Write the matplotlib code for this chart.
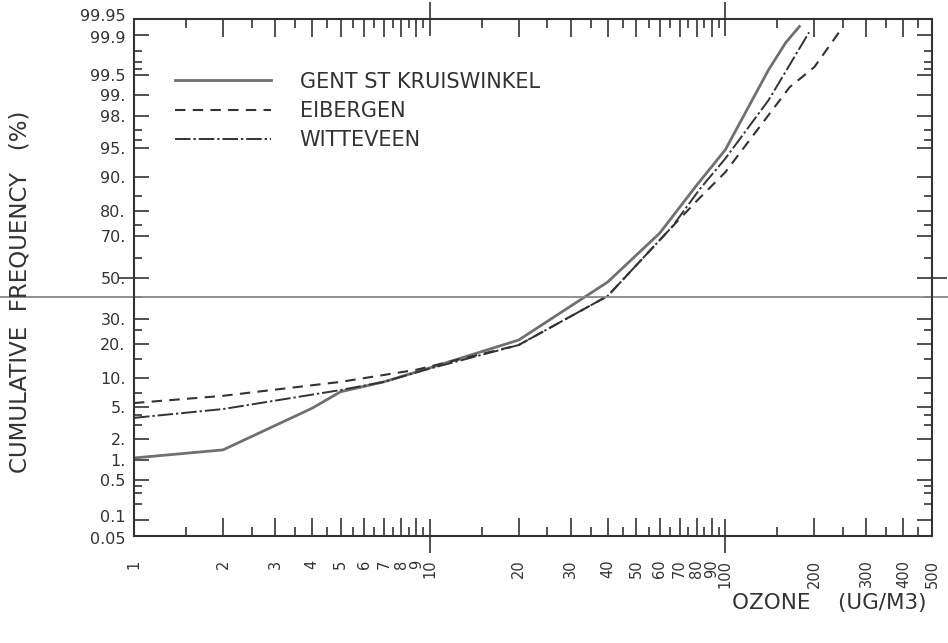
import math
import numpy as np
import matplotlib
matplotlib.use("Agg")
import matplotlib.pyplot as plt
from matplotlib.ticker import NullFormatter
from matplotlib.transforms import ScaledTranslation

# ozone concentration (ug/m3) vs cumulative frequency (%)
gent_x = [1, 2, 4, 5, 7, 10, 20, 40, 60, 80, 100, 140, 160, 178]
gent_y = [1.08, 1.41, 4.8, 7.3, 9.2, 12.5, 21.3, 47.7, 71.4, 88.0, 94.8, 99.59, 99.86, 99.93]

eib_x = [1, 2, 5, 9, 20, 40, 66, 80, 100, 165, 200, 248]
eib_y = [5.5, 6.6, 9.2, 12.0, 19.5, 40.7, 74.0, 83.5, 91.0, 99.23, 99.63, 99.925]

wit_x = [1, 2, 5, 7, 10, 20, 40, 66, 82, 100, 140, 192]
wit_y = [3.7, 4.7, 7.6, 9.2, 12.3, 19.5, 40.7, 74.0, 87.0, 93.5, 98.8, 99.91]

labels = ["GENT ST KRUISWINKEL", "EIBERGEN", "WITTEVEEN"]

y_major = [0.05, 0.1, 0.5, 1, 2, 5, 10, 20, 30, 50, 70, 80, 90, 95, 98, 99, 99.5, 99.9, 99.95]
y_major_lbl = ["0.05", "0.1", "0.5", "1.", "2.", "5.", "10.", "20.", "30.", "50.",
               "70.", "80.", "90.", "95.", "98.", "99.", "99.5", "99.9", "99.95"]
y_minor = [0.2, 0.3, 0.4, 3, 4, 7, 15, 25, 40, 60, 75, 85, 96, 97, 99.6, 99.7, 99.8]

x_major = [1, 2, 3, 4, 5, 6, 7, 8, 9, 10, 20, 30, 40, 50, 60, 70, 80, 90, 100, 200, 300, 400, 500]
x_minor = [1.5, 2.5, 3.5, 4.5, 5.5, 6.5, 7.5, 8.5, 9.5,
           15, 25, 35, 45, 55, 65, 75, 85, 95, 150, 250, 350, 450]

# normal probability scale (Acklam approximation for the inverse)
A = [-3.969683028665376e+01, 2.209460984245205e+02, -2.759285104469687e+02,
     1.383577518672690e+02, -3.066479806614716e+01, 2.506628277459239e+00]
B = [-5.447609879822406e+01, 1.615858368580409e+02, -1.556989798598866e+02,
     6.680131188771972e+01, -1.328068155288572e+01]
C = [-7.784894002430293e-03, -3.223964580411365e-01, -2.400758277161838e+00,
     -2.549671010060793e+00, 4.374664141464968e+00, 2.938163982698783e+00]
D = [7.784695709041462e-03, 3.224671290700398e-01, 2.445134137142996e+00,
     3.754408661907416e+00]


def _tail(q):
    return ((((((C[0]*q + C[1])*q + C[2])*q + C[3])*q + C[4])*q + C[5]) /
            ((((D[0]*q + D[1])*q + D[2])*q + D[3])*q + 1))


def ppf(pct):
    arr = np.asarray(pct, dtype=float)
    p = np.clip(np.atleast_1d(arr) / 100.0, 1e-12, 1 - 1e-12)
    z = np.full(p.shape, np.nan)
    plow = 0.02425
    lo = p < plow
    hi = p > 1 - plow
    mid = ~(lo | hi) & ~np.isnan(p)
    z[lo] = _tail(np.sqrt(-2 * np.log(p[lo])))
    z[hi] = -_tail(np.sqrt(-2 * np.log(1 - p[hi])))
    q = p[mid] - 0.5
    r = q * q
    z[mid] = ((((((A[0]*r + A[1])*r + A[2])*r + A[3])*r + A[4])*r + A[5]) * q /
              (((((B[0]*r + B[1])*r + B[2])*r + B[3])*r + B[4])*r + 1))
    return z.reshape(arr.shape)


_erf = np.vectorize(math.erf)


def cdf(z):
    return 50.0 * (1 + _erf(np.asarray(z, dtype=float) / math.sqrt(2)))


ink = "#333333"
plt.rcParams["font.family"] = "DejaVu Sans"

fig = plt.figure(figsize=(9.48, 6.43), dpi=100)
ax = fig.add_axes([134 / 948, 1 - 536 / 643, 798 / 948, 517 / 643])

ax.plot(gent_x, gent_y, color="#707070", lw=2.0, label=labels[0])
ax.plot(eib_x, eib_y, color=ink, lw=1.5, dashes=(5, 3.5), label=labels[1])
ax.plot(wit_x, wit_y, color=ink, lw=1.4, dashes=(8, 1.5, 1.2, 1.5), label=labels[2])

ax.set_xscale("log")
ax.set_yscale("function", functions=(ppf, cdf))
ax.set_xlim(1, 500)
ax.set_ylim(0.05, 99.95)

ax.set_yticks(y_major, labels=y_major_lbl)
ax.set_yticks(y_minor, minor=True)
ax.yaxis.set_minor_formatter(NullFormatter())
ax.set_xticks(x_major, labels=[str(v) for v in x_major])
ax.set_xticks(x_minor, minor=True)
ax.xaxis.set_minor_formatter(NullFormatter())

for s in ax.spines.values():
    s.set_linewidth(1.5)
    s.set_color(ink)

ax.tick_params(axis="both", which="both", direction="in", top=True, right=True,
               color=ink, width=1.2, labelcolor=ink)
ax.tick_params(axis="y", which="major", length=10.5, labelsize=11.5, pad=6)
ax.tick_params(axis="y", which="minor", length=6)
ax.tick_params(axis="x", which="major", length=13, labelsize=10.5, pad=17,
               labelrotation=90)
ax.tick_params(axis="x", which="minor", length=6.5)
for t in ax.get_xticklabels():
    t.set_va("top")

# ticks at 50 %, 10 and 100 cross the frame
for tk, v in zip(ax.yaxis.get_major_ticks(), y_major):
    if v == 50:
        for ln in (tk.tick1line, tk.tick2line):
            ln.set_marker("_")
            ln.set_markersize(21)
    # crowded labels at both ends are nudged apart
    shift = {99.95: 3, 99.9: -1.5, 0.1: 3, 0.05: -1.5}.get(v, 0)
    if shift:
        tk.label1.set_transform(tk.label1.get_transform()
                                + ScaledTranslation(0, shift / 72, fig.dpi_scale_trans))
for tk, v in zip(ax.xaxis.get_major_ticks(), x_major):
    if v in (10, 100):
        for ln in (tk.tick1line, tk.tick2line):
            ln.set_marker("|")
            ln.set_markersize(24)

leg = ax.legend(loc="upper left", bbox_to_anchor=(0.051, 0.898), frameon=False,
                borderpad=0, borderaxespad=0, handlelength=4.6, handletextpad=1.4,
                labelspacing=0.45, prop={"size": 15})
for t in leg.get_texts():
    t.set_color(ink)

fig.text(20 / 948, 1 - 292 / 643, "CUMULATIVE  FREQUENCY   (%)", rotation=90,
         ha="center", va="center", fontsize=16.5, color=ink)
fig.text(926 / 948, 1 - 603 / 643, "OZONE    (UG/M3)", ha="right", va="center",
         fontsize=15.5, color=ink)

# crease line from the scanned original
ax.axhline(40, xmin=-0.17, xmax=1.02, color="#888888", lw=1.3, clip_on=False)

fig.savefig("out.png", dpi=100)
